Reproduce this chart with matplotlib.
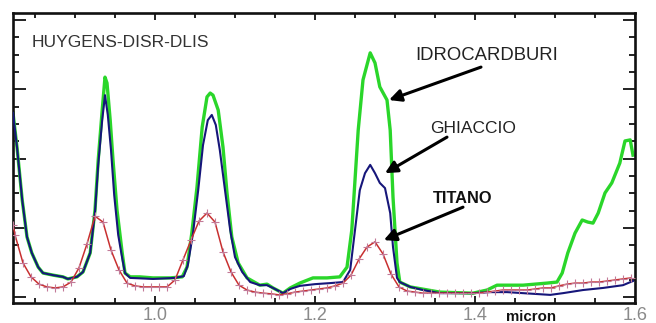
import matplotlib
matplotlib.use("Agg")
import matplotlib.pyplot as plt
from matplotlib.ticker import MultipleLocator, FixedLocator, FixedFormatter

plt.rcParams['font.family'] = ['Liberation Sans', 'DejaVu Sans']

# ---- data (wavelength in micron, relative signal) ----
x_idro = [0.8225, 0.8275, 0.834, 0.840, 0.846, 0.854, 0.860, 0.8725, 0.885, 0.891, 0.9025,
          0.910, 0.919, 0.925, 0.929, 0.934, 0.9375, 0.940, 0.944, 0.9475, 0.9525, 0.959,
          0.9625, 0.969, 0.981, 0.9975, 1.019, 1.034, 1.040, 1.046, 1.0525, 1.059, 1.065,
          1.069, 1.0725, 1.079, 1.085, 1.090, 1.096, 1.104, 1.115, 1.131, 1.140, 1.1475,
          1.160, 1.169, 1.181, 1.1975, 1.215, 1.231, 1.240, 1.246, 1.250, 1.254, 1.260,
          1.269, 1.275, 1.281, 1.290, 1.294, 1.2975, 1.3025, 1.306, 1.319, 1.356, 1.3975,
          1.415, 1.4275, 1.460, 1.490, 1.5025, 1.509, 1.516, 1.525, 1.534, 1.541, 1.5475,
          1.554, 1.5625, 1.571, 1.581, 1.5875, 1.594, 1.5975]
y_idro = [0.532, 0.433, 0.281, 0.174, 0.128, 0.087, 0.070, 0.064, 0.059, 0.053, 0.059,
          0.073, 0.128, 0.252, 0.396, 0.540, 0.635, 0.618, 0.511, 0.396, 0.252, 0.128,
          0.070, 0.059, 0.059, 0.056, 0.056, 0.059, 0.087, 0.185, 0.318, 0.491, 0.578,
          0.589, 0.583, 0.540, 0.433, 0.301, 0.174, 0.099, 0.056, 0.035, 0.038, 0.027,
          0.012, 0.027, 0.041, 0.056, 0.056, 0.059, 0.087, 0.194, 0.338, 0.482, 0.627,
          0.705, 0.676, 0.607, 0.569, 0.482, 0.289, 0.099, 0.044, 0.030, 0.015, 0.012,
          0.021, 0.035, 0.035, 0.041, 0.044, 0.070, 0.128, 0.185, 0.223, 0.217, 0.214,
          0.243, 0.301, 0.330, 0.387, 0.451, 0.454, 0.410]

x_ghiaccio = [0.8225, 0.8275, 0.834, 0.840, 0.846, 0.854, 0.860, 0.8725, 0.885, 0.891, 0.9025,
              0.910, 0.919, 0.925, 0.929, 0.934, 0.9375, 0.941, 0.945, 0.949, 0.954, 0.959,
              0.9625, 0.969, 0.9975, 1.025, 1.036, 1.041, 1.0475, 1.054, 1.060, 1.066,
              1.071, 1.076, 1.081, 1.0875, 1.094, 1.100, 1.109, 1.119, 1.131, 1.140, 1.1475,
              1.160, 1.169, 1.181, 1.200, 1.219, 1.235, 1.244, 1.250, 1.256, 1.2625, 1.269,
              1.275, 1.281, 1.2875, 1.294, 1.2975, 1.3025, 1.306, 1.319, 1.335, 1.356, 1.3975,
              1.419, 1.440, 1.460, 1.494, 1.510, 1.535, 1.560, 1.585, 1.5975]
y_ghiaccio = [0.532, 0.433, 0.281, 0.174, 0.128, 0.087, 0.070, 0.064, 0.059, 0.053, 0.059,
              0.073, 0.128, 0.246, 0.382, 0.511, 0.583, 0.526, 0.425, 0.295, 0.180, 0.113,
              0.070, 0.056, 0.053, 0.056, 0.061, 0.093, 0.185, 0.309, 0.439, 0.511,
              0.526, 0.497, 0.425, 0.309, 0.194, 0.116, 0.073, 0.044, 0.035, 0.035, 0.027,
              0.012, 0.024, 0.033, 0.038, 0.041, 0.044, 0.079, 0.194, 0.309, 0.358, 0.382,
              0.358, 0.330, 0.315, 0.243, 0.145, 0.056, 0.044, 0.030, 0.021, 0.012, 0.012,
              0.015, 0.015, 0.012, 0.007, 0.012, 0.021, 0.027, 0.035, 0.047]

x_titano = [0.8225, 0.825, 0.835, 0.845, 0.855, 0.865, 0.875, 0.885, 0.895, 0.905, 0.915,
            0.925, 0.935, 0.945, 0.955, 0.965, 0.975, 0.985, 0.995, 1.005, 1.015, 1.025,
            1.035, 1.045, 1.055, 1.065, 1.075, 1.085, 1.095, 1.105, 1.115, 1.125, 1.135,
            1.145, 1.155, 1.165, 1.175, 1.185, 1.195, 1.205, 1.215, 1.225, 1.235, 1.245,
            1.255, 1.265, 1.275, 1.285, 1.295, 1.305, 1.315, 1.325, 1.335, 1.345, 1.355,
            1.365, 1.375, 1.385, 1.395, 1.405, 1.415, 1.425, 1.435, 1.445, 1.455, 1.465,
            1.475, 1.485, 1.495, 1.505, 1.515, 1.525, 1.535, 1.545, 1.555, 1.565, 1.575,
            1.585, 1.595]
y_titano = [0.209, 0.180, 0.099, 0.059, 0.038, 0.030, 0.027, 0.030, 0.044, 0.085, 0.154,
            0.234, 0.217, 0.136, 0.079, 0.041, 0.033, 0.030, 0.030, 0.030, 0.030, 0.050,
            0.108, 0.165, 0.220, 0.243, 0.217, 0.131, 0.073, 0.035, 0.021, 0.015, 0.012,
            0.010, 0.007, 0.010, 0.015, 0.018, 0.021, 0.024, 0.027, 0.033, 0.041, 0.064,
            0.110, 0.145, 0.160, 0.125, 0.067, 0.030, 0.018, 0.015, 0.012, 0.012, 0.012,
            0.012, 0.012, 0.012, 0.012, 0.012, 0.015, 0.018, 0.021, 0.021, 0.021, 0.021,
            0.024, 0.027, 0.027, 0.033, 0.038, 0.041, 0.041, 0.044, 0.044, 0.047, 0.050,
            0.053, 0.056]

x_ticklabels = ["1.0", "1.2", "1.4", "1.6"]
x_tickvals = [1.0, 1.2, 1.4, 1.6]

# ---- figure ----
fig = plt.figure(figsize=(6.56, 3.23), dpi=100)
ax = fig.add_axes([13/656, 20/323, 622/656, 290/323])

ax.plot(x_idro, y_idro, color='#2ad62a', lw=2.4, zorder=2, solid_joinstyle='round')
ax.plot(x_ghiaccio, y_ghiaccio, color='#16167a', lw=1.5, zorder=3, solid_joinstyle='round')
ax.plot(x_titano, y_titano, color='#c83030', lw=1.1, zorder=4,
        marker='+', markersize=6, markeredgewidth=0.8, markeredgecolor='#c27a98')

ax.set_xlim(0.8225, 1.6)
ax.set_ylim(-0.0164, 0.820)

ax.xaxis.set_major_locator(FixedLocator(x_tickvals))
ax.xaxis.set_major_formatter(FixedFormatter(x_ticklabels))
ax.xaxis.set_minor_locator(MultipleLocator(0.05))
ax.yaxis.set_major_locator(MultipleLocator(0.2))
ax.yaxis.set_minor_locator(MultipleLocator(0.05))
ax.set_yticklabels([])

for s in ax.spines.values():
    s.set_linewidth(1.9)
    s.set_color('#111111')

ax.tick_params(axis='x', which='both', direction='in', top=True, bottom=True,
               width=1.3, color='#111111', labelsize=13, labelcolor='#8a8a8a', pad=3)
ax.tick_params(axis='x', which='major', length=5)
ax.tick_params(axis='x', which='minor', length=3.5)
ax.tick_params(axis='y', which='both', direction='in', left=True, right=True,
               width=1.3, color='#111111', labelleft=False)
ax.tick_params(axis='y', which='major', length=9)
ax.tick_params(axis='y', which='minor', length=4.5)

# ---- texts ----
ax.text(0.846, 0.722, "HUYGENS-DISR-DLIS", fontsize=12.5, color='#333333',
        va='baseline', ha='left')
ax.text(1.325, 0.684, "IDROCARDBURI", fontsize=13.3, color='#222222',
        va='baseline', ha='left')
ax.text(1.344, 0.474, "GHIACCIO", fontsize=12.5, color='#222222',
        va='baseline', ha='left')
ax.text(1.3475, 0.272, "TITANO", fontsize=11.8, color='#111111', fontweight='bold',
        va='baseline', ha='left')

arrow_kw = dict(arrowstyle='-|>', color='black', lw=2.2, mutation_scale=18,
                shrinkA=0, shrinkB=0)
ax.annotate('', xy=(1.2925, 0.569), xytext=(1.4075, 0.664), arrowprops=arrow_kw)
ax.annotate('', xy=(1.2875, 0.358), xytext=(1.365, 0.462), arrowprops=arrow_kw)
ax.annotate('', xy=(1.286, 0.165), xytext=(1.385, 0.260), arrowprops=arrow_kw)

fig.text(531/656, (323-321)/323, "micron", fontsize=10.8, fontweight='bold',
         color='#111111', ha='center', va='baseline')

fig.savefig("out.png", dpi=100)
